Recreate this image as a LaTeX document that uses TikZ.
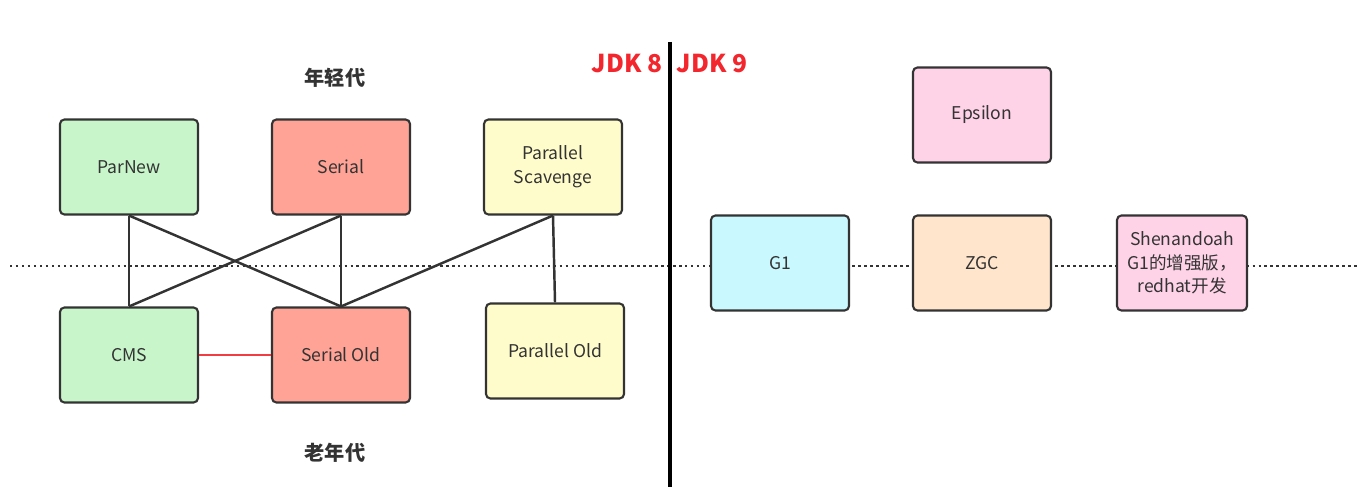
\documentclass[tikz,border=0pt]{standalone}
\usepackage{fontspec}
\setmainfont{Noto Sans CJK SC}
\usepackage{tikz}
\usepackage{xcolor}
\usetikzlibrary{arrows,calc,positioning,shapes}
\definecolor{edge}{HTML}{333333}
\definecolor{youngA}{HTML}{C8F6CA}
\definecolor{serialA}{HTML}{FFA396}
\definecolor{parA}{HTML}{FFFCCB}
\definecolor{pinkA}{HTML}{FFD3E7}
\definecolor{cyanA}{HTML}{C9F8FE}
\definecolor{peachA}{HTML}{FFE5CC}
\definecolor{jdkred}{HTML}{F2262C}
\tikzset{%
	gc/.style       = {draw=edge, line width=1.2pt, rectangle, rounded corners=2.5pt, minimum width=2.76cm, minimum height=1.9cm, text centered, align=center, text=edge, font=\fontsize{10}{13.5}\selectfont},
	gen/.style      = {text=edge, font=\bfseries\fontsize{11.5}{14}\selectfont}, % generation label
	jdk/.style      = {text=jdkred, font=\bfseries\fontsize{14}{16}\selectfont},
	link/.style     = {draw=edge, line width=1.4pt},
	waypoint/.style = {coordinate},
}

\begin{document}
\begin{tikzpicture}[x=0.02cm, y=-0.02cm]
	\useasboundingbox (0,0) rectangle (1364,499);
	% dotted divider
	\coordinate (dl) at (10,266);
	\coordinate (dr) at (1358,266);
	\draw[edge, line width=1.6pt, dash pattern=on 1.4pt off 2pt] (dl) -- (dr);
	% JDK 8 | JDK 9
	\coordinate (vt) at (670,42);
	\coordinate (vb) at (670,487);
	\draw[line width=2.8pt, black] (vt) -- (vb);
	\node[jdk] (jdk8) at (627,64) {JDK 8};
	\node[jdk] (jdk9) at (712,64) {JDK 9};
	\node[gen] (young) at (335,78) {年轻代};
	\node[gen] (old) at (335,453) {老年代};
	% young generation
	\node[gc, fill=youngA] (parnew) at (129,167) {ParNew};
	\node[gc, fill=serialA] (serial) at (341,167) {Serial};
	\node[gc, fill=parA] (ps) at (553,167) {Parallel\\Scavenge};
	% old generation
	\node[gc, fill=youngA] (cms) at (129,355) {CMS};
	\node[gc, fill=serialA] (serialold) at (341,355) {Serial Old};
	\node[gc, fill=parA] (parold) at (555,351) {Parallel Old};
	\draw[link] (parnew.south) -- (cms.north);
	\draw[link] (parnew.south) -- (serialold.north);
	\draw[link] (serial.south) -- (cms.north);
	\draw[link] (serial.south) -- (serialold.north);
	\draw[link] (ps.south) -- (serialold.north);
	\draw[link] (ps.south) -- (parold.north);
	\draw[line width=1.5pt, jdkred!90] (cms.east) -- (serialold.west);
	% after JDK 9
	\node[gc, fill=pinkA] (epsilon) at (982,115) {Epsilon};
	\node[gc, fill=cyanA] (g1) at (780,263) {G1};
	\node[gc, fill=peachA] (zgc) at (982,263) {ZGC};
	\node[gc, fill=pinkA, minimum width=2.6cm] (shen) at (1182,263) {Shenandoah\\G1的增强版，\\redhat开发};
\end{tikzpicture}
\end{document}
